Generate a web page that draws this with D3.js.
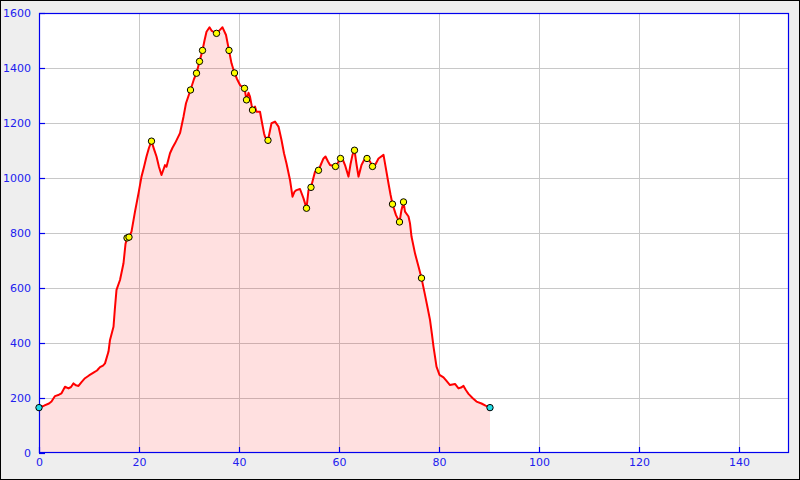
<!DOCTYPE html>
<html>
<head>
<meta charset="utf-8">
<script src="https://cdn.jsdelivr.net/npm/d3@7"></script>
<style>
html,body{margin:0;padding:0;background:#eeeeee;}
svg{display:block;}
text{font-family:"DejaVu Sans",sans-serif;}
</style>
</head>
<body>
<script>
// distance (km)
const dist = [0,1.0,2.0,2.5,3.2,4.0,4.5,5.2,5.9,6.4,6.9,7.4,7.9,8.5,9.2,10.0,10.9,11.6,12.2,12.8,13.2,13.9,14.2,14.9,15.2,15.5,16.2,16.9,17.3,17.6,18.0,18.5,19.2,19.9,20.5,21.0,21.5,22.0,22.5,23.0,23.5,24.0,24.5,25.2,25.5,26.2,26.7,27.2,28.2,28.9,29.4,30.3,31.0,31.5,32.1,32.7,33.1,33.5,34.1,34.5,35.0,35.5,36.0,36.7,37.4,38.0,38.5,39.1,39.6,40.2,40.7,41.1,41.5,41.9,42.2,42.7,43.2,43.5,44.2,44.5,45.0,45.2,45.8,46.5,47.2,47.9,48.5,49.0,49.5,50.2,50.7,51.1,51.5,52.2,52.9,53.5,53.9,54.4,55.2,55.9,56.4,56.9,57.3,57.8,58.2,59.3,60.3,60.8,61.2,61.9,62.3,62.7,63.1,63.5,63.9,64.5,65.0,65.6,66.2,66.7,67.3,67.9,68.9,69.2,69.9,70.3,70.7,71.4,72.1,72.5,72.9,73.2,73.9,74.2,74.5,75.2,75.9,76.5,77.2,77.7,78.2,78.6,78.9,79.5,80.1,80.9,81.5,82.2,83.2,83.9,84.4,84.9,85.4,85.9,86.7,87.5,88.5,89.3,90.2];
// elevation (m)
const elev = [165,172,180,187,207,212,217,241,235,240,253,246,244,258,272,282,292,300,312,318,326,369,411,459,530,593,629,690,760,782,785,805,878,944,1005,1040,1078,1110,1134,1105,1078,1040,1011,1047,1041,1090,1110,1126,1163,1223,1272,1320,1360,1381,1424,1464,1500,1532,1548,1536,1530,1526,1535,1548,1520,1464,1417,1382,1360,1338,1330,1326,1284,1310,1296,1247,1260,1241,1241,1211,1163,1150,1137,1199,1205,1187,1138,1090,1053,993,932,950,956,960,926,890,956,966,1023,1028,1050,1071,1078,1060,1047,1042,1071,1065,1047,1005,1050,1084,1101,1050,1005,1047,1065,1071,1060,1042,1050,1071,1084,1053,980,940,905,865,840,884,913,878,860,835,787,726,678,636,575,530,484,430,387,314,284,275,262,247,251,235,238,244,228,215,200,187,180,172,165];
// waypoints
const wpDist = [17.6,18.0,22.5,30.3,31.5,32.1,32.7,35.5,38.0,39.1,41.1,41.5,42.7,45.8,53.5,54.4,55.9,59.3,60.3,63.1,65.6,66.7,70.7,72.1,72.9,76.5];
const wpElev = [782,785,1134,1320,1381,1424,1464,1526,1464,1382,1326,1284,1247,1137,890,966,1028,1042,1071,1101,1071,1042,905,840,913,636];
// start/end
const endDist = [0,90.2];
const endElev = [165,165];
const xTicks = [0,20,40,60,80,100,120,140];
const yTicks = [0,200,400,600,800,1000,1200,1400,1600];

const W=800,H=480;
const L=39,R=789,T=13,B=453;
const svg=d3.select("body").append("svg").attr("width",W).attr("height",H);
svg.append("rect").attr("x",0.5).attr("y",0.5).attr("width",W-1).attr("height",H-1)
  .attr("fill","#eeeeee").attr("stroke","#000").attr("stroke-width",1);
svg.append("rect").attr("x",L).attr("y",T).attr("width",R-L).attr("height",B-T).attr("fill","#fff");

const x=d3.scaleLinear().domain([0,150]).range([L,R]);
const y=d3.scaleLinear().domain([0,1600]).range([B,T]);

// grid
const g=svg.append("g");
g.selectAll(".vx").data(xTicks.filter(d=>d>0)).enter().append("line")
  .attr("x1",d=>Math.round(x(d))+0.5).attr("x2",d=>Math.round(x(d))+0.5)
  .attr("y1",T).attr("y2",B).attr("stroke","#c8c8c8").attr("stroke-width",1);
g.selectAll(".hy").data(yTicks.filter(d=>d>0&&d<1600)).enter().append("line")
  .attr("y1",d=>Math.round(y(d))+0.5).attr("y2",d=>Math.round(y(d))+0.5)
  .attr("x1",L).attr("x2",R).attr("stroke","#c8c8c8").attr("stroke-width",1);

const pts=dist.map((d,i)=>[d,elev[i]]);
svg.append("path").datum(pts)
  .attr("d",d3.area().x(d=>x(d[0])).y0(y(0)).y1(d=>y(d[1])))
  .attr("fill","rgba(255,0,0,0.12)");
svg.append("path").datum(pts)
  .attr("d",d3.line().x(d=>x(d[0])).y(d=>y(d[1])))
  .attr("fill","none").attr("stroke","#ff0000").attr("stroke-width",2).attr("stroke-linejoin","round");

// border
svg.append("rect").attr("x",L+0.5).attr("y",T+0.5).attr("width",R-L-1).attr("height",B-T-1)
  .attr("fill","none").attr("stroke","#0000ee").attr("stroke-width",1.2);

// axes
const fmt=d3.format("d");
const ax=svg.append("g").attr("transform",`translate(0,${B})`)
  .call(d3.axisBottom(x).tickValues(xTicks).tickFormat(fmt).tickSizeInner(-6).tickSizeOuter(0).tickPadding(5));
const ay=svg.append("g").attr("transform",`translate(${L},0)`)
  .call(d3.axisLeft(y).tickValues(yTicks).tickFormat(fmt).tickSizeInner(-6).tickSizeOuter(0).tickPadding(8));
[ax,ay].forEach(a=>{
  a.select(".domain").remove();
  a.selectAll("line").attr("stroke","#0000ee").attr("stroke-width",1.2);
  a.selectAll("text").attr("fill","#2020ee").style("font-size","11px").style("font-family","DejaVu Sans");
});

// markers
svg.selectAll(".wp").data(wpDist.map((d,i)=>[d,wpElev[i]])).enter().append("circle")
  .attr("cx",d=>x(d[0])).attr("cy",d=>y(d[1])).attr("r",3.2)
  .attr("fill","#ffff00").attr("stroke","#000").attr("stroke-width",1);
svg.selectAll(".ep").data(endDist.map((d,i)=>[d,endElev[i]])).enter().append("circle")
  .attr("cx",d=>x(d[0])).attr("cy",d=>y(d[1])).attr("r",3.2)
  .attr("fill","#22dde6").attr("stroke","#000").attr("stroke-width",1);
</script>
</body>
</html>
